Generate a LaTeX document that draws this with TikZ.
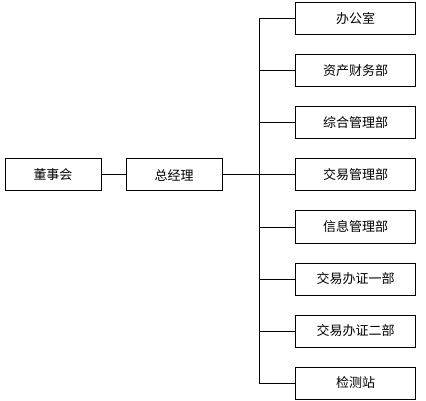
\documentclass[tikz,border=0pt]{standalone}
\usepackage{fontspec}
\newfontfamily\cjk{Noto Sans CJK SC}
\usetikzlibrary{positioning}
\begin{document}
\begin{tikzpicture}[x=1pt,y=-1pt,line width=1pt,
    box/.style={draw, minimum height=32pt, inner sep=0pt, font=\cjk\fontsize{13}{15}\selectfont},
    headbox/.style={box, minimum width=96pt},
    deptbox/.style={box, minimum width=120pt}]
    \useasboundingbox (0,0) rectangle (426,401);
    \node [headbox] (board) at (53,175) {董事会};
    \node [headbox, right=24pt of board] (gm) {总经理};
    \coordinate (bus) at (259,0);
    \foreach \dept [count=\i] in {办公室,资产财务部,综合管理部,交易管理部,信息管理部,交易办证一部,交易办证二部,检测站} {
        \node [deptbox] (dept\i) at (355.5,{19+52*(\i-1)}) {\dept};
        \draw (dept\i.west) -- (bus |- dept\i.west);
    }
    \draw (board) -- (gm);
    \draw (gm.east) -- (bus |- gm.east);
    \draw (bus |- dept1.west) -- (bus |- dept8.west);
\end{tikzpicture}
\end{document}
